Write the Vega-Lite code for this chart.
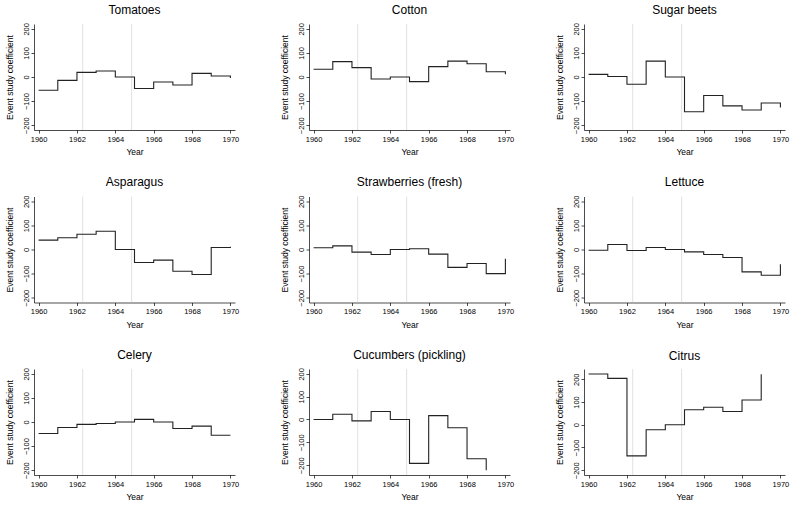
{
  "$schema": "https://vega.github.io/schema/vega-lite/v6.json",
  "background": "white",
  "padding": {"left": 5, "top": 3, "right": 5, "bottom": 5},
  "datasets": {
    "events": [{"event": 1962.3}, {"event": 1964.85}],
    "coef": [
      {"crop": "Tomatoes", "year": 1960, "coef": -55}, {"crop": "Tomatoes", "year": 1961, "coef": -14}, {"crop": "Tomatoes", "year": 1962, "coef": 19}, {"crop": "Tomatoes", "year": 1963, "coef": 25}, {"crop": "Tomatoes", "year": 1964, "coef": 0}, {"crop": "Tomatoes", "year": 1965, "coef": -48}, {"crop": "Tomatoes", "year": 1966, "coef": -21}, {"crop": "Tomatoes", "year": 1967, "coef": -33}, {"crop": "Tomatoes", "year": 1968, "coef": 15}, {"crop": "Tomatoes", "year": 1969, "coef": 4}, {"crop": "Tomatoes", "year": 1970, "coef": -4},
      {"crop": "Cotton", "year": 1960, "coef": 32}, {"crop": "Cotton", "year": 1961, "coef": 64}, {"crop": "Cotton", "year": 1962, "coef": 39}, {"crop": "Cotton", "year": 1963, "coef": -8}, {"crop": "Cotton", "year": 1964, "coef": 0}, {"crop": "Cotton", "year": 1965, "coef": -19}, {"crop": "Cotton", "year": 1966, "coef": 43}, {"crop": "Cotton", "year": 1967, "coef": 66}, {"crop": "Cotton", "year": 1968, "coef": 55}, {"crop": "Cotton", "year": 1969, "coef": 22}, {"crop": "Cotton", "year": 1970, "coef": 11},
      {"crop": "Sugar beets", "year": 1960, "coef": 11}, {"crop": "Sugar beets", "year": 1961, "coef": 2}, {"crop": "Sugar beets", "year": 1962, "coef": -30}, {"crop": "Sugar beets", "year": 1963, "coef": 66}, {"crop": "Sugar beets", "year": 1964, "coef": 0}, {"crop": "Sugar beets", "year": 1965, "coef": -144}, {"crop": "Sugar beets", "year": 1966, "coef": -77}, {"crop": "Sugar beets", "year": 1967, "coef": -120}, {"crop": "Sugar beets", "year": 1968, "coef": -137}, {"crop": "Sugar beets", "year": 1969, "coef": -108}, {"crop": "Sugar beets", "year": 1970, "coef": -127},
      {"crop": "Asparagus", "year": 1960, "coef": 39}, {"crop": "Asparagus", "year": 1961, "coef": 49}, {"crop": "Asparagus", "year": 1962, "coef": 63}, {"crop": "Asparagus", "year": 1963, "coef": 76}, {"crop": "Asparagus", "year": 1964, "coef": 0}, {"crop": "Asparagus", "year": 1965, "coef": -54}, {"crop": "Asparagus", "year": 1966, "coef": -44}, {"crop": "Asparagus", "year": 1967, "coef": -90}, {"crop": "Asparagus", "year": 1968, "coef": -104}, {"crop": "Asparagus", "year": 1969, "coef": 8}, {"crop": "Asparagus", "year": 1970, "coef": 11},
      {"crop": "Strawberries (fresh)", "year": 1960, "coef": 7}, {"crop": "Strawberries (fresh)", "year": 1961, "coef": 15}, {"crop": "Strawberries (fresh)", "year": 1962, "coef": -11}, {"crop": "Strawberries (fresh)", "year": 1963, "coef": -21}, {"crop": "Strawberries (fresh)", "year": 1964, "coef": 0}, {"crop": "Strawberries (fresh)", "year": 1965, "coef": 3}, {"crop": "Strawberries (fresh)", "year": 1966, "coef": -19}, {"crop": "Strawberries (fresh)", "year": 1967, "coef": -74}, {"crop": "Strawberries (fresh)", "year": 1968, "coef": -58}, {"crop": "Strawberries (fresh)", "year": 1969, "coef": -100}, {"crop": "Strawberries (fresh)", "year": 1970, "coef": -38},
      {"crop": "Lettuce", "year": 1960, "coef": -3}, {"crop": "Lettuce", "year": 1961, "coef": 21}, {"crop": "Lettuce", "year": 1962, "coef": -4}, {"crop": "Lettuce", "year": 1963, "coef": 8}, {"crop": "Lettuce", "year": 1964, "coef": 0}, {"crop": "Lettuce", "year": 1965, "coef": -10}, {"crop": "Lettuce", "year": 1966, "coef": -21}, {"crop": "Lettuce", "year": 1967, "coef": -33}, {"crop": "Lettuce", "year": 1968, "coef": -93}, {"crop": "Lettuce", "year": 1969, "coef": -107}, {"crop": "Lettuce", "year": 1970, "coef": -61},
      {"crop": "Celery", "year": 1960, "coef": -48}, {"crop": "Celery", "year": 1961, "coef": -23}, {"crop": "Celery", "year": 1962, "coef": -10}, {"crop": "Celery", "year": 1963, "coef": -6}, {"crop": "Celery", "year": 1964, "coef": 0}, {"crop": "Celery", "year": 1965, "coef": 11}, {"crop": "Celery", "year": 1966, "coef": 0}, {"crop": "Celery", "year": 1967, "coef": -27}, {"crop": "Celery", "year": 1968, "coef": -17}, {"crop": "Celery", "year": 1969, "coef": -55}, {"crop": "Celery", "year": 1970, "coef": -55},
      {"crop": "Cucumbers (pickling)", "year": 1960, "coef": 0}, {"crop": "Cucumbers (pickling)", "year": 1961, "coef": 23}, {"crop": "Cucumbers (pickling)", "year": 1962, "coef": -6}, {"crop": "Cucumbers (pickling)", "year": 1963, "coef": 35}, {"crop": "Cucumbers (pickling)", "year": 1964, "coef": 0}, {"crop": "Cucumbers (pickling)", "year": 1965, "coef": -192}, {"crop": "Cucumbers (pickling)", "year": 1966, "coef": 17}, {"crop": "Cucumbers (pickling)", "year": 1967, "coef": -36}, {"crop": "Cucumbers (pickling)", "year": 1968, "coef": -172}, {"crop": "Cucumbers (pickling)", "year": 1969, "coef": -222},
      {"crop": "Citrus", "year": 1960, "coef": 223}, {"crop": "Citrus", "year": 1961, "coef": 204}, {"crop": "Citrus", "year": 1962, "coef": -137}, {"crop": "Citrus", "year": 1963, "coef": -22}, {"crop": "Citrus", "year": 1964, "coef": 0}, {"crop": "Citrus", "year": 1965, "coef": 66}, {"crop": "Citrus", "year": 1966, "coef": 77}, {"crop": "Citrus", "year": 1967, "coef": 58}, {"crop": "Citrus", "year": 1968, "coef": 109}, {"crop": "Citrus", "year": 1969, "coef": 222}
    ]
  },
  "columns": 3,
  "spacing": {"column": 41, "row": 19.5},
  "config": {
    "font": "Liberation Sans",
    "view": {"stroke": null},
    "title": {"fontSize": 12, "fontWeight": "normal", "color": "#000", "offset": 6, "font": "Liberation Sans"},
    "axis": {"grid": false, "domainColor": "#000", "domainWidth": 0.7, "tickColor": "#000", "tickWidth": 0.7, "tickSize": 3, "labelFontSize": 7.5, "labelColor": "#000", "titleFontSize": 8.5, "titleFontWeight": "normal", "titleColor": "#000", "labelFont": "Liberation Sans", "titleFont": "Liberation Sans"},
    "axisX": {"labelPadding": 2, "titlePadding": 5},
    "axisY": {"labelPadding": 1, "titlePadding": 8}
  },
  "concat": [
    {"title": "Tomatoes", "width": 201, "height": 106, "layer": [
      {"data": {"name": "events"}, "mark": {"type": "rule", "color": "#cccccc", "strokeWidth": 0.6}, "encoding": {"x": {"field": "event", "type": "quantitative", "scale": {"domain": [1959.76, 1970.24], "nice": false}}}},
      {"data": {"name": "coef"}, "transform": [{"filter": "datum.crop === 'Tomatoes'"}], "mark": {"type": "line", "interpolate": "step-after", "color": "#222", "strokeWidth": 1.1}, "encoding": {
        "x": {"field": "year", "type": "quantitative", "title": "Year", "scale": {"domain": [1959.76, 1970.24], "nice": false}, "axis": {"values": [1960,1961,1962,1963,1964,1965,1966,1967,1968,1969,1970], "format": "d", "labelExpr": "datum.value % 2 === 0 ? datum.label : ''"}},
        "y": {"field": "coef", "type": "quantitative", "title": "Event study coefficient", "scale": {"domain": [-220, 220], "nice": false, "zero": false}, "axis": {"values": [-200,-100,0,100,200], "labelAngle": 270, "labelAlign": "center", "labelBaseline": "bottom"}}}}
    ]},
    {"title": "Cotton", "width": 201, "height": 106, "layer": [
      {"data": {"name": "events"}, "mark": {"type": "rule", "color": "#cccccc", "strokeWidth": 0.6}, "encoding": {"x": {"field": "event", "type": "quantitative", "scale": {"domain": [1959.76, 1970.24], "nice": false}}}},
      {"data": {"name": "coef"}, "transform": [{"filter": "datum.crop === 'Cotton'"}], "mark": {"type": "line", "interpolate": "step-after", "color": "#222", "strokeWidth": 1.1}, "encoding": {
        "x": {"field": "year", "type": "quantitative", "title": "Year", "scale": {"domain": [1959.76, 1970.24], "nice": false}, "axis": {"values": [1960,1961,1962,1963,1964,1965,1966,1967,1968,1969,1970], "format": "d", "labelExpr": "datum.value % 2 === 0 ? datum.label : ''"}},
        "y": {"field": "coef", "type": "quantitative", "title": "Event study coefficient", "scale": {"domain": [-220, 220], "nice": false, "zero": false}, "axis": {"values": [-200,-100,0,100,200], "labelAngle": 270, "labelAlign": "center", "labelBaseline": "bottom"}}}}
    ]},
    {"title": "Sugar beets", "width": 201, "height": 106, "layer": [
      {"data": {"name": "events"}, "mark": {"type": "rule", "color": "#cccccc", "strokeWidth": 0.6}, "encoding": {"x": {"field": "event", "type": "quantitative", "scale": {"domain": [1959.76, 1970.24], "nice": false}}}},
      {"data": {"name": "coef"}, "transform": [{"filter": "datum.crop === 'Sugar beets'"}], "mark": {"type": "line", "interpolate": "step-after", "color": "#222", "strokeWidth": 1.1}, "encoding": {
        "x": {"field": "year", "type": "quantitative", "title": "Year", "scale": {"domain": [1959.76, 1970.24], "nice": false}, "axis": {"values": [1960,1961,1962,1963,1964,1965,1966,1967,1968,1969,1970], "format": "d", "labelExpr": "datum.value % 2 === 0 ? datum.label : ''"}},
        "y": {"field": "coef", "type": "quantitative", "title": "Event study coefficient", "scale": {"domain": [-220, 220], "nice": false, "zero": false}, "axis": {"values": [-200,-100,0,100,200], "labelAngle": 270, "labelAlign": "center", "labelBaseline": "bottom"}}}}
    ]},
    {"title": "Asparagus", "width": 201, "height": 106, "layer": [
      {"data": {"name": "events"}, "mark": {"type": "rule", "color": "#cccccc", "strokeWidth": 0.6}, "encoding": {"x": {"field": "event", "type": "quantitative", "scale": {"domain": [1959.76, 1970.24], "nice": false}}}},
      {"data": {"name": "coef"}, "transform": [{"filter": "datum.crop === 'Asparagus'"}], "mark": {"type": "line", "interpolate": "step-after", "color": "#222", "strokeWidth": 1.1}, "encoding": {
        "x": {"field": "year", "type": "quantitative", "title": "Year", "scale": {"domain": [1959.76, 1970.24], "nice": false}, "axis": {"values": [1960,1961,1962,1963,1964,1965,1966,1967,1968,1969,1970], "format": "d", "labelExpr": "datum.value % 2 === 0 ? datum.label : ''"}},
        "y": {"field": "coef", "type": "quantitative", "title": "Event study coefficient", "scale": {"domain": [-220, 220], "nice": false, "zero": false}, "axis": {"values": [-200,-100,0,100,200], "labelAngle": 270, "labelAlign": "center", "labelBaseline": "bottom"}}}}
    ]},
    {"title": "Strawberries (fresh)", "width": 201, "height": 106, "layer": [
      {"data": {"name": "events"}, "mark": {"type": "rule", "color": "#cccccc", "strokeWidth": 0.6}, "encoding": {"x": {"field": "event", "type": "quantitative", "scale": {"domain": [1959.76, 1970.24], "nice": false}}}},
      {"data": {"name": "coef"}, "transform": [{"filter": "datum.crop === 'Strawberries (fresh)'"}], "mark": {"type": "line", "interpolate": "step-after", "color": "#222", "strokeWidth": 1.1}, "encoding": {
        "x": {"field": "year", "type": "quantitative", "title": "Year", "scale": {"domain": [1959.76, 1970.24], "nice": false}, "axis": {"values": [1960,1961,1962,1963,1964,1965,1966,1967,1968,1969,1970], "format": "d", "labelExpr": "datum.value % 2 === 0 ? datum.label : ''"}},
        "y": {"field": "coef", "type": "quantitative", "title": "Event study coefficient", "scale": {"domain": [-220, 220], "nice": false, "zero": false}, "axis": {"values": [-200,-100,0,100,200], "labelAngle": 270, "labelAlign": "center", "labelBaseline": "bottom"}}}}
    ]},
    {"title": "Lettuce", "width": 201, "height": 106, "layer": [
      {"data": {"name": "events"}, "mark": {"type": "rule", "color": "#cccccc", "strokeWidth": 0.6}, "encoding": {"x": {"field": "event", "type": "quantitative", "scale": {"domain": [1959.76, 1970.24], "nice": false}}}},
      {"data": {"name": "coef"}, "transform": [{"filter": "datum.crop === 'Lettuce'"}], "mark": {"type": "line", "interpolate": "step-after", "color": "#222", "strokeWidth": 1.1}, "encoding": {
        "x": {"field": "year", "type": "quantitative", "title": "Year", "scale": {"domain": [1959.76, 1970.24], "nice": false}, "axis": {"values": [1960,1961,1962,1963,1964,1965,1966,1967,1968,1969,1970], "format": "d", "labelExpr": "datum.value % 2 === 0 ? datum.label : ''"}},
        "y": {"field": "coef", "type": "quantitative", "title": "Event study coefficient", "scale": {"domain": [-220, 220], "nice": false, "zero": false}, "axis": {"values": [-200,-100,0,100,200], "labelAngle": 270, "labelAlign": "center", "labelBaseline": "bottom"}}}}
    ]},
    {"title": "Celery", "width": 201, "height": 106, "layer": [
      {"data": {"name": "events"}, "mark": {"type": "rule", "color": "#cccccc", "strokeWidth": 0.6}, "encoding": {"x": {"field": "event", "type": "quantitative", "scale": {"domain": [1959.76, 1970.24], "nice": false}}}},
      {"data": {"name": "coef"}, "transform": [{"filter": "datum.crop === 'Celery'"}], "mark": {"type": "line", "interpolate": "step-after", "color": "#222", "strokeWidth": 1.1}, "encoding": {
        "x": {"field": "year", "type": "quantitative", "title": "Year", "scale": {"domain": [1959.76, 1970.24], "nice": false}, "axis": {"values": [1960,1961,1962,1963,1964,1965,1966,1967,1968,1969,1970], "format": "d", "labelExpr": "datum.value % 2 === 0 ? datum.label : ''"}},
        "y": {"field": "coef", "type": "quantitative", "title": "Event study coefficient", "scale": {"domain": [-220, 220], "nice": false, "zero": false}, "axis": {"values": [-200,-100,0,100,200], "labelAngle": 270, "labelAlign": "center", "labelBaseline": "bottom"}}}}
    ]},
    {"title": "Cucumbers (pickling)", "width": 201, "height": 106, "layer": [
      {"data": {"name": "events"}, "mark": {"type": "rule", "color": "#cccccc", "strokeWidth": 0.6}, "encoding": {"x": {"field": "event", "type": "quantitative", "scale": {"domain": [1959.76, 1970.24], "nice": false}}}},
      {"data": {"name": "coef"}, "transform": [{"filter": "datum.crop === 'Cucumbers (pickling)'"}], "mark": {"type": "line", "interpolate": "step-after", "color": "#222", "strokeWidth": 1.1}, "encoding": {
        "x": {"field": "year", "type": "quantitative", "title": "Year", "scale": {"domain": [1959.76, 1970.24], "nice": false}, "axis": {"values": [1960,1961,1962,1963,1964,1965,1966,1967,1968,1969,1970], "format": "d", "labelExpr": "datum.value % 2 === 0 ? datum.label : ''"}},
        "y": {"field": "coef", "type": "quantitative", "title": "Event study coefficient", "scale": {"domain": [-243, 221], "nice": false, "zero": false}, "axis": {"values": [-200,-100,0,100,200], "labelAngle": 270, "labelAlign": "center", "labelBaseline": "bottom"}}}}
    ]},
    {"title": "Citrus", "width": 201, "height": 106, "layer": [
      {"data": {"name": "events"}, "mark": {"type": "rule", "color": "#cccccc", "strokeWidth": 0.6}, "encoding": {"x": {"field": "event", "type": "quantitative", "scale": {"domain": [1959.76, 1970.24], "nice": false}}}},
      {"data": {"name": "coef"}, "transform": [{"filter": "datum.crop === 'Citrus'"}], "mark": {"type": "line", "interpolate": "step-after", "color": "#222", "strokeWidth": 1.1}, "encoding": {
        "x": {"field": "year", "type": "quantitative", "title": "Year", "scale": {"domain": [1959.76, 1970.24], "nice": false}, "axis": {"values": [1960,1961,1962,1963,1964,1965,1966,1967,1968,1969,1970], "format": "d", "labelExpr": "datum.value % 2 === 0 ? datum.label : ''"}},
        "y": {"field": "coef", "type": "quantitative", "title": "Event study coefficient", "scale": {"domain": [-221, 245], "nice": false, "zero": false}, "axis": {"values": [-200,-100,0,100,200], "labelAngle": 270, "labelAlign": "center", "labelBaseline": "bottom"}}}}
    ]}
  ]
}
